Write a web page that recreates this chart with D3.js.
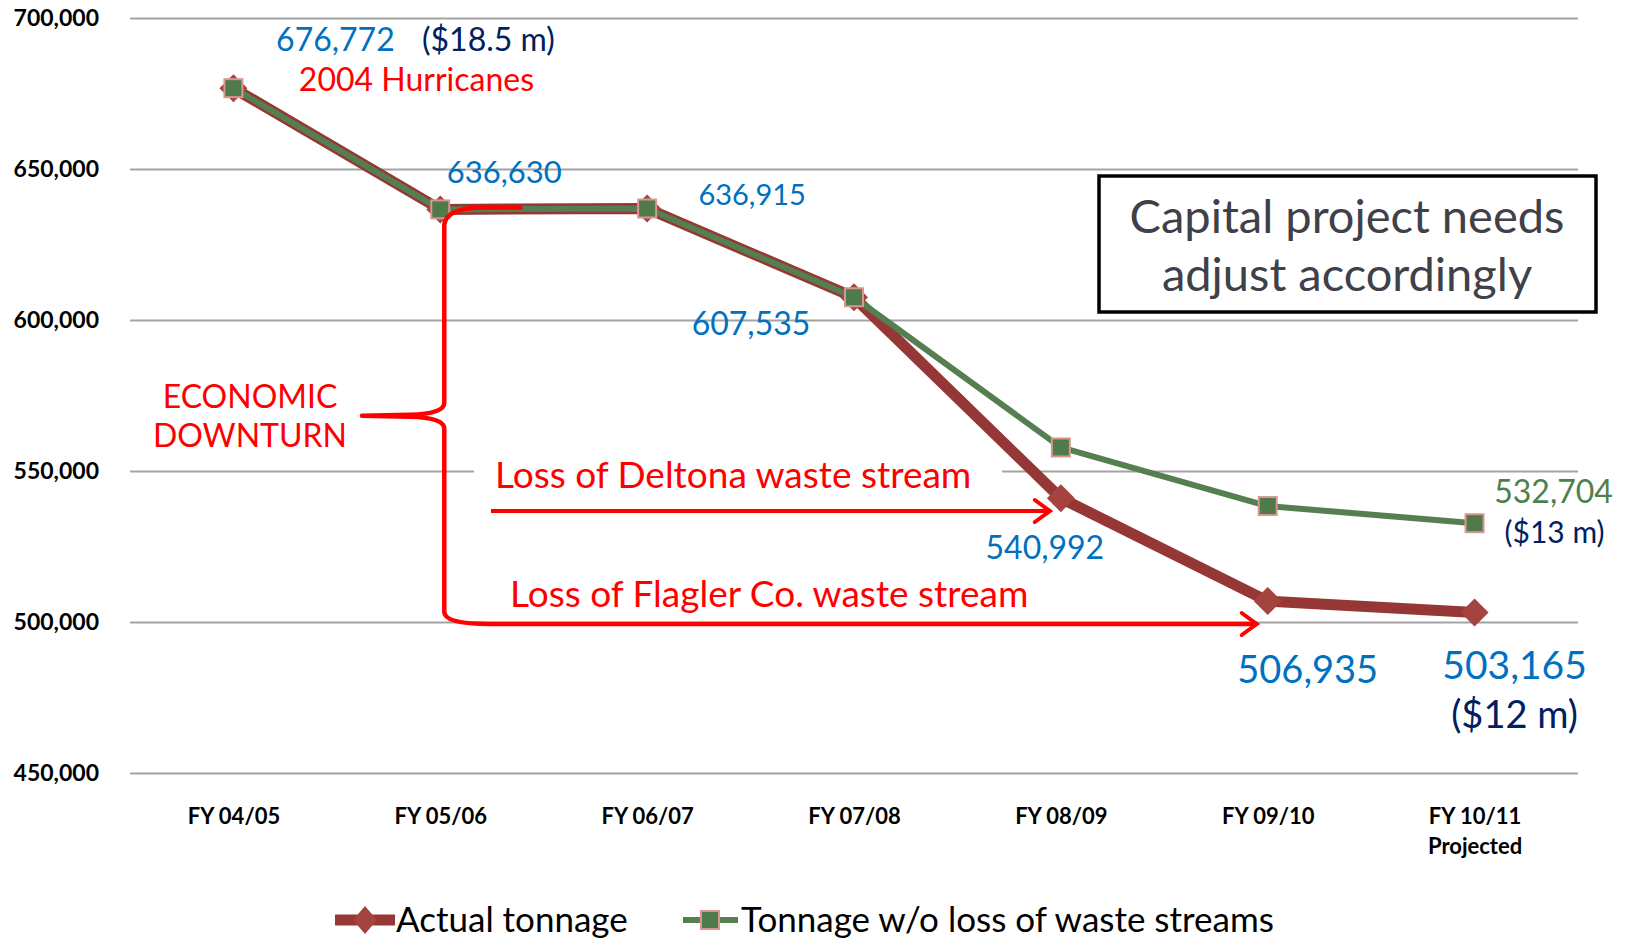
<!DOCTYPE html>
<html>
<head>
<meta charset="utf-8">
<script src="https://cdn.jsdelivr.net/npm/d3@7"></script>
<style>
  html, body { margin: 0; padding: 0; background: #fff; }
  svg text { font-family: Lato, "Open Sans", sans-serif; }
</style>
</head>
<body>
<svg id="chart" width="1630" height="939"></svg>
<script>
// chart data
const categories = ['FY 04/05', 'FY 05/06', 'FY 06/07', 'FY 07/08', 'FY 08/09', 'FY 09/10', 'FY 10/11'];
const actualTonnage = [676772, 636630, 636915, 607535, 540992, 506935, 503165];
const tonnageWithoutLoss = [676772, 636630, 636915, 607535, 557800, 538400, 532704];
const yTicks = [450000, 500000, 550000, 600000, 650000, 700000];
const seriesNames = ['Actual tonnage', 'Tonnage w/o loss of waste streams'];

const BLUE = '#0070C0', NAVY = '#002060', RED = '#FF0000';
const ACTUAL = '#953735', ACTUAL_MARK = '#A5443F';
const GREEN = '#557F50', GREEN_MARK = '#4F7A4A', GREEN_EDGE = '#D99694';

const svg = d3.select('#chart');

const x = d3.scalePoint()
    .domain(categories)
    .range([130, 1578])
    .padding(0.5);

const y = d3.scaleLinear()
    .domain([450000, 700000])
    .range([773, 18]);

// gridlines + y labels
const yAxis = svg.append('g')
    .attr('transform', 'translate(130,0)')
    .call(d3.axisLeft(y).tickValues(yTicks).tickFormat(d3.format(',')).tickSize(-1448).tickPadding(31));
yAxis.select('.domain').remove();
yAxis.selectAll('line').attr('stroke', '#a3a3a3').attr('stroke-width', 2);
yAxis.selectAll('text')
    .attr('fill', '#000')
    .attr('font-size', 23)
    .attr('font-weight', 'bold')
    .style('font-family', 'Lato, sans-serif');

// x labels
const xAxis = svg.append('g')
    .attr('transform', 'translate(0,773)')
    .call(d3.axisBottom(x).tickSize(0).tickPadding(35));
xAxis.select('.domain').remove();
xAxis.selectAll('text')
    .attr('fill', '#000')
    .attr('font-size', 22)
    .attr('font-weight', 'bold')
    .style('font-family', 'Lato, sans-serif');
xAxis.selectAll('.tick').filter(d => d === categories[categories.length - 1])
    .select('text')
    .append('tspan')
    .attr('x', 0)
    .attr('dy', '1.4em')
    .text('Projected');

// white patch behind the Deltona label (it hides the 550,000 gridline)
svg.append('rect')
    .attr('x', 474).attr('y', 452)
    .attr('width', 528).attr('height', 46)
    .attr('fill', '#fff');

// series lines
const line = d3.line()
    .x((d, i) => x(categories[i]))
    .y(d => y(d));

svg.append('path')
    .datum(actualTonnage)
    .attr('d', line)
    .attr('fill', 'none')
    .attr('stroke', ACTUAL)
    .attr('stroke-width', 11)
    .attr('stroke-linejoin', 'round');

svg.selectAll('.diamond')
    .data(actualTonnage)
    .join('path')
    .attr('class', 'diamond')
    .attr('d', 'M0,-14 L14,0 L0,14 L-14,0 Z')
    .attr('transform', (d, i) => `translate(${x(categories[i])},${y(d)})`)
    .attr('fill', ACTUAL_MARK);

svg.append('path')
    .datum(tonnageWithoutLoss)
    .attr('d', line)
    .attr('fill', 'none')
    .attr('stroke', GREEN)
    .attr('stroke-width', 6)
    .attr('stroke-linejoin', 'round');

svg.selectAll('.square')
    .data(tonnageWithoutLoss)
    .join('rect')
    .attr('class', 'square')
    .attr('x', (d, i) => x(categories[i]) - 9)
    .attr('y', d => y(d) - 9)
    .attr('width', 18)
    .attr('height', 18)
    .attr('fill', GREEN_MARK)
    .attr('stroke', GREEN_EDGE)
    .attr('stroke-width', 2);

// bracket + arrows
const bx = x(categories[1]) + 4;
const bTop = y(actualTonnage[1]) - 2;
const bBot = y(500000) + 2;
const bMid = (bTop + bBot) / 2;
const tipX = 362;
const flaglerEnd = x(categories[5]) - 11;
const deltonaEnd = x(categories[4]) - 11;
const deltonaY = 511;

const bracket = d3.path();
bracket.moveTo(bx + 78, bTop);
bracket.lineTo(bx + 36, bTop);
bracket.quadraticCurveTo(bx + 2, bTop + 1, bx, bTop + 17);
bracket.lineTo(bx, bMid - 13);
bracket.quadraticCurveTo(bx, bMid - 2, bx - 34, bMid - 1);
bracket.lineTo(tipX, bMid);
bracket.lineTo(bx - 34, bMid + 1);
bracket.quadraticCurveTo(bx, bMid + 2, bx, bMid + 13);
bracket.lineTo(bx, bBot - 12);
bracket.quadraticCurveTo(bx, bBot, bx + 46, bBot);
bracket.lineTo(flaglerEnd, bBot);

svg.append('path')
    .attr('d', bracket.toString())
    .attr('fill', 'none')
    .attr('stroke', RED)
    .attr('stroke-width', 4.5)
    .attr('stroke-linejoin', 'round');

svg.append('line')
    .attr('x1', 491).attr('y1', deltonaY)
    .attr('x2', deltonaEnd).attr('y2', deltonaY)
    .attr('stroke', RED).attr('stroke-width', 4);

[[flaglerEnd, bBot], [deltonaEnd, deltonaY]].forEach(([ax, ay]) => {
    svg.append('path')
        .attr('d', `M${ax - 15},${ay - 11} L${ax},${ay} L${ax - 15},${ay + 11}`)
        .attr('fill', 'none')
        .attr('stroke', RED)
        .attr('stroke-width', 4)
        .attr('stroke-linecap', 'round');
});

// value labels, placed relative to their points
const pointLabels = [
    {text: '676,772', series: actualTonnage, i: 0, dx: 102, dy: -48, size: 32, color: BLUE},
    {text: '($18.5 m)', series: actualTonnage, i: 0, dx: 255, dy: -48, size: 32, color: NAVY},
    {text: '2004 Hurricanes', series: actualTonnage, i: 0, dx: 183, dy: -8, size: 32, color: RED},
    {text: '636,630', series: actualTonnage, i: 1, dx: 64, dy: -37, size: 31, color: BLUE},
    {text: '636,915', series: actualTonnage, i: 2, dx: 105, dy: -14, size: 29, color: BLUE},
    {text: '607,535', series: actualTonnage, i: 3, dx: -103, dy: 27, size: 32, color: BLUE},
    {text: '540,992', series: actualTonnage, i: 4, dx: -16, dy: 50, size: 32, color: BLUE},
    {text: '506,935', series: actualTonnage, i: 5, dx: 40, dy: 69, size: 38, color: BLUE},
    {text: '503,165', series: actualTonnage, i: 6, dx: 40, dy: 53, size: 39, color: BLUE},
    {text: '($12 m)', series: actualTonnage, i: 6, dx: 40, dy: 102, size: 38, color: NAVY},
    {text: '532,704', series: tonnageWithoutLoss, i: 6, dx: 79, dy: -31, size: 32, color: '#4F7F4A'},
    {text: '($13 m)', series: tonnageWithoutLoss, i: 6, dx: 80, dy: 9, size: 30, color: NAVY}
];

svg.selectAll('.plabel')
    .data(pointLabels)
    .join('text')
    .attr('class', 'plabel')
    .attr('x', d => x(categories[d.i]) + d.dx)
    .attr('y', d => y(d.series[d.i]) + d.dy)
    .attr('dy', '0.35em')
    .attr('text-anchor', 'middle')
    .attr('font-size', d => d.size)
    .attr('fill', d => d.color)
    .text(d => d.text);

// free annotations
const notes = [
    {text: 'ECONOMIC', x: 250, y: 397, anchor: 'middle', size: 32},
    {text: 'DOWNTURN', x: 250, y: 436, anchor: 'middle', size: 32},
    {text: 'Loss of Deltona waste stream', x: 495, y: 475, anchor: 'start', size: 37},
    {text: 'Loss of Flagler Co. waste stream', x: 510, y: 594, anchor: 'start', size: 37}
];
svg.selectAll('.note')
    .data(notes)
    .join('text')
    .attr('class', 'note')
    .attr('x', d => d.x)
    .attr('y', d => d.y)
    .attr('dy', '0.35em')
    .attr('text-anchor', d => d.anchor)
    .attr('font-size', d => d.size)
    .attr('fill', RED)
    .text(d => d.text);

// callout box
svg.append('rect')
    .attr('x', 1099).attr('y', 176)
    .attr('width', 497).attr('height', 136)
    .attr('fill', '#fff')
    .attr('stroke', '#000')
    .attr('stroke-width', 3.5);

svg.selectAll('.boxtext')
    .data(['Capital project needs', 'adjust accordingly'])
    .join('text')
    .attr('class', 'boxtext')
    .attr('x', 1347)
    .attr('y', (d, i) => 217 + i * 58)
    .attr('dy', '0.35em')
    .attr('text-anchor', 'middle')
    .attr('font-size', 47)
    .attr('fill', '#404049')
    .text(d => d);

// legend
const legend = svg.append('g').attr('transform', 'translate(0,920)');

legend.append('line')
    .attr('x1', 335).attr('x2', 395)
    .attr('stroke', ACTUAL).attr('stroke-width', 11);
legend.append('path')
    .attr('d', 'M0,-14 L12,0 L0,14 L-12,0 Z')
    .attr('transform', 'translate(365,0)')
    .attr('fill', ACTUAL_MARK);
legend.append('text')
    .attr('x', 396).attr('dy', '0.35em')
    .attr('font-size', 35)
    .text(seriesNames[0]);

legend.append('line')
    .attr('x1', 683).attr('x2', 738)
    .attr('stroke', GREEN).attr('stroke-width', 6);
legend.append('rect')
    .attr('x', 701).attr('y', -9)
    .attr('width', 18).attr('height', 18)
    .attr('fill', GREEN_MARK)
    .attr('stroke', GREEN_EDGE)
    .attr('stroke-width', 2);
legend.append('text')
    .attr('x', 741).attr('dy', '0.35em')
    .attr('font-size', 35)
    .text(seriesNames[1]);
</script>
</body>
</html>
